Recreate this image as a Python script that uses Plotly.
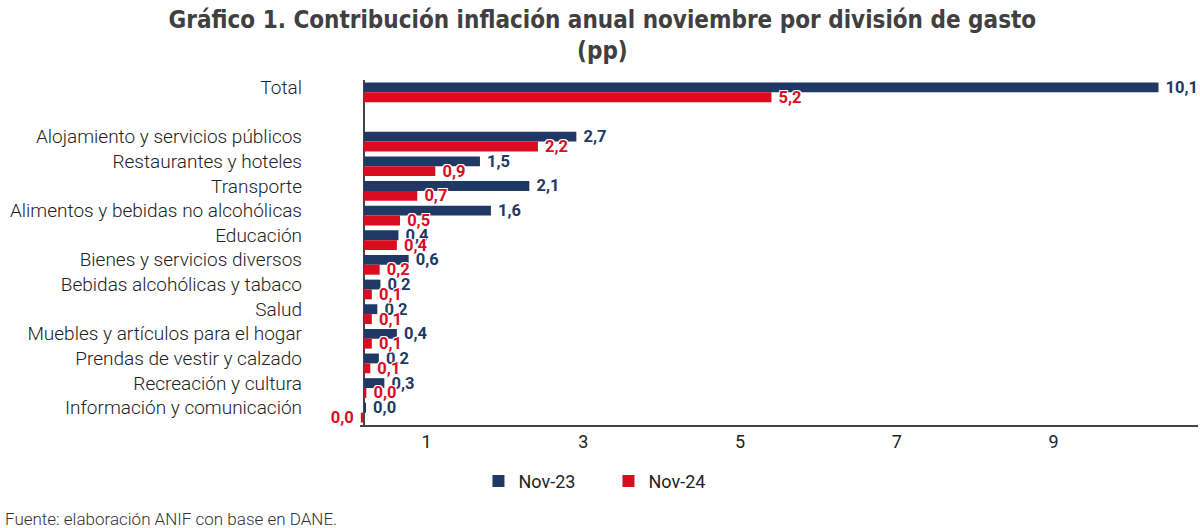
import plotly.graph_objects as go

# contribucion a la inflacion anual de noviembre (pp)
divisiones = [
    "Total",
    "Alojamiento y servicios públicos",
    "Restaurantes y hoteles",
    "Transporte",
    "Alimentos y bebidas no alcohólicas",
    "Educación",
    "Bienes y servicios diversos",
    "Bebidas alcohólicas y tabaco",
    "Salud",
    "Muebles y artículos para el hogar",
    "Prendas de vestir y calzado",
    "Recreación y cultura",
    "Información y comunicación",
]
nov_23 = [10.14, 2.71, 1.48, 2.11, 1.62, 0.44, 0.57, 0.21, 0.17, 0.42, 0.19, 0.26, 0.02]
nov_24 = [5.2, 2.22, 0.91, 0.68, 0.46, 0.42, 0.2, 0.1, 0.1, 0.1, 0.08, 0.03, -0.04]

# fila vacia entre el total y las divisiones
orden_filas = [divisiones[0], " "] + divisiones[1:]

tick_vals = [0.8, 2.8, 4.8, 6.8, 8.8]
tick_text = ["1", "3", "5", "7", "9"]

AZUL = "#1f3864"
ROJO = "#d90d1f"
EJE = "#444444"
HALO = "-1px -1px 0 #fff, 1px -1px 0 #fff, -1px 1px 0 #fff, 1px 1px 0 #fff"


def etiqueta(v):
    # formato colombiano con coma decimal, sin "-0,0"
    return f"{round(v, 1) + 0.0:.1f}".replace(".", ",")


fig = go.Figure()
for nombre, valores, color in [("Nov-23", nov_23, AZUL), ("Nov-24", nov_24, ROJO)]:
    fig.add_trace(
        go.Bar(
            y=divisiones,
            x=valores,
            name=nombre,
            orientation="h",
            marker=dict(color=color, line=dict(width=0)),
            text=[etiqueta(v) for v in valores],
            # un espacio entre la barra y la etiqueta, del lado que toque
            texttemplate=["%{text}\u00a0" if v < 0 else "\u00a0%{text}" for v in valores],
            textposition="outside",
            constraintext="none",
            cliponaxis=False,
            textfont=dict(family="Roboto", size=16.5, color=color, weight="bold", shadow=HALO),
            hoverinfo="skip",
        )
    )

fig.update_layout(
    width=1200,
    height=528,
    margin=dict(l=360, r=2, t=80, b=103, autoexpand=False),
    paper_bgcolor="white",
    plot_bgcolor="white",
    barmode="group",
    bargap=0.2,
    bargroupgap=0,
    font=dict(family="Roboto", color="#222222"),
    title=dict(
        text="Gráfico 1. Contribución inflación anual noviembre por división de gasto<br>(pp)",
        x=0.502,
        xref="container",
        xanchor="center",
        y=0.947,
        yref="container",
        yanchor="top",
        font=dict(family="DejaVu Sans Condensed, Liberation Sans Narrow, Roboto", size=24,
                  color="#404040", weight="bold"),
    ),
    xaxis=dict(
        range=[-0.051, 10.644],
        tickvals=tick_vals,
        ticktext=tick_text,
        showgrid=False,
        zeroline=True,
        zerolinecolor=EJE,
        zerolinewidth=1.5,
        showline=True,
        linecolor=EJE,
        linewidth=1.5,
        ticks="",
        tickfont=dict(family="Roboto", size=18, color="#222222"),
        automargin=False,
        fixedrange=True,
    ),
    yaxis=dict(
        categoryorder="array",
        categoryarray=orden_filas,
        autorange="reversed",
        showgrid=False,
        zeroline=False,
        showline=False,
        ticks="",
        ticklabelstandoff=57,
        ticklabelshift=5,
        tickfont=dict(family="Roboto", size=19, color="#222222", weight=300),
        automargin=False,
        fixedrange=True,
    ),
    legend=dict(
        orientation="h",
        x=0.2965,
        xanchor="center",
        y=-0.163,
        yanchor="middle",
        font=dict(family="Roboto", size=18, color="#222222"),
        itemwidth=30,
        entrywidth=85,
        traceorder="normal",
    ),
    showlegend=True,
)

fig.add_annotation(
    text="Fuente: elaboración ANIF con base en DANE.",
    xref="paper",
    yref="paper",
    x=-357 / 838,
    y=-0.272,
    xanchor="left",
    yanchor="middle",
    showarrow=False,
    font=dict(family="Roboto", size=17, color="#333333", weight=300),
)

# la pagina por defecto deja 8px de margen en el body; lo quitamos
fig.write_html(
    "out.html",
    config={"displayModeBar": False},
    post_script="document.body.style.margin='0';",
)
